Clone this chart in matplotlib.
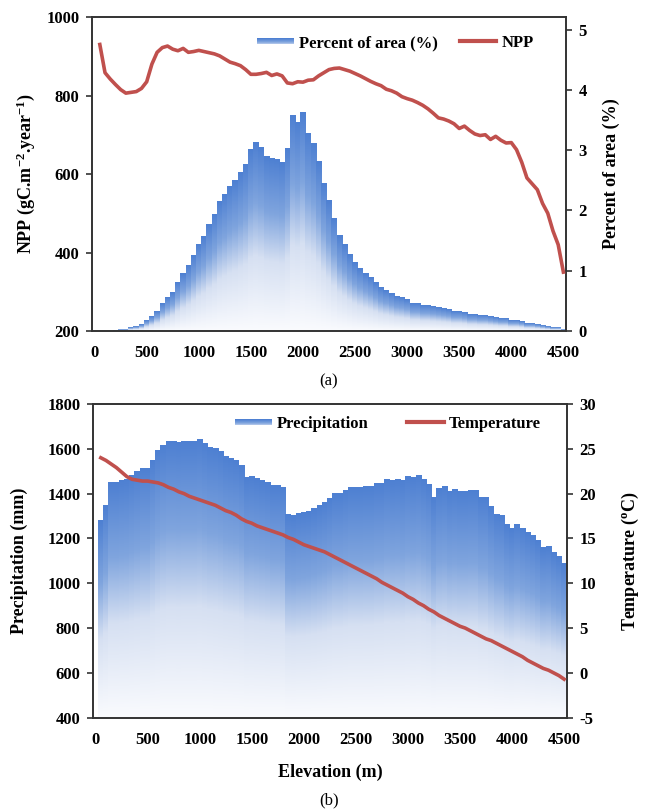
import numpy as np
import matplotlib
matplotlib.use('Agg')
import matplotlib.pyplot as plt
from matplotlib.colors import LinearSegmentedColormap
from matplotlib.legend_handler import HandlerBase
from matplotlib.patches import Rectangle, Patch
from matplotlib.lines import Line2D

plt.rcParams['font.family'] = ['Liberation Serif', 'DejaVu Serif']
plt.rcParams['font.weight'] = 'bold'
plt.rcParams['axes.labelweight'] = 'bold'
plt.rcParams['axes.unicode_minus'] = False
plt.rcParams['mathtext.fontset'] = 'custom'
plt.rcParams['mathtext.rm'] = 'Liberation Serif:bold'
plt.rcParams['mathtext.bf'] = 'Liberation Serif:bold'
plt.rcParams['mathtext.it'] = 'Liberation Serif:bold'
plt.rcParams['mathtext.default'] = 'bf'

# ---------------- data ----------------
elevation = list(range(50, 4501, 50))  # 90 bins of 50 m

percent_area = [
    0.00, 0.00, 0.00, 0.01, 0.02, 0.03, 0.06, 0.08, 0.11, 0.18,
    0.24, 0.33, 0.46, 0.55, 0.64, 0.81, 0.96, 1.09, 1.25, 1.44,
    1.56, 1.77, 1.93, 2.15, 2.26, 2.39, 2.49, 2.63, 2.76, 3.01,
    3.13, 3.05, 2.89, 2.87, 2.84, 2.79, 3.02, 3.57, 3.46, 3.62,
    3.28, 3.11, 2.82, 2.44, 2.17, 1.86, 1.58, 1.44, 1.27, 1.13,
    1.04, 0.95, 0.88, 0.81, 0.72, 0.67, 0.63, 0.58, 0.55, 0.52,
    0.46, 0.45, 0.43, 0.42, 0.40, 0.39, 0.37, 0.35, 0.33, 0.32,
    0.30, 0.28, 0.27, 0.26, 0.25, 0.24, 0.23, 0.21, 0.20, 0.18,
    0.17, 0.15, 0.13, 0.12, 0.10, 0.09, 0.07, 0.06, 0.05, 0.03,
]

npp = [
    930, 858, 842, 828, 815, 806, 808, 810, 818, 835,
    880, 910, 922, 926, 918, 914, 920, 910, 912, 915,
    912, 909, 906, 901, 893, 885, 881, 876, 866, 854,
    854, 856, 859, 851, 855, 850, 832, 830, 835, 834,
    839, 840, 850, 858, 866, 869, 870, 866, 862, 856,
    850, 843, 836, 830, 825, 816, 812, 806, 797, 792,
    788, 782, 775, 766, 755, 743, 740, 735, 728, 716,
    722, 711, 702, 698, 700, 688, 696, 686, 679, 680,
    662, 630, 590, 575, 560, 525, 500, 455, 420, 350,
]

precipitation = [
    1283, 1348, 1453, 1453, 1458, 1464, 1483, 1501, 1513, 1513,
    1547, 1592, 1617, 1635, 1635, 1631, 1635, 1636, 1636, 1642,
    1625, 1607, 1603, 1590, 1569, 1558, 1547, 1528, 1473, 1476,
    1468, 1461, 1453, 1439, 1436, 1430, 1309, 1305, 1312, 1316,
    1322, 1334, 1349, 1360, 1379, 1401, 1401, 1416, 1428, 1428,
    1428, 1434, 1434, 1446, 1446, 1464, 1458, 1464, 1458, 1476,
    1473, 1482, 1464, 1442, 1386, 1424, 1434, 1409, 1419, 1409,
    1409, 1414, 1414, 1384, 1384, 1342, 1308, 1305, 1262, 1245,
    1264, 1245, 1230, 1215, 1193, 1163, 1166, 1139, 1122, 1089,
]

temperature = [
    24.0, 23.7, 23.3, 22.9, 22.4, 21.9, 21.6, 21.5, 21.4, 21.4,
    21.3, 21.2, 21.0, 20.7, 20.5, 20.2, 20.0, 19.7, 19.5, 19.3,
    19.1, 18.9, 18.7, 18.4, 18.1, 17.9, 17.6, 17.2, 16.9, 16.7,
    16.4, 16.2, 16.0, 15.8, 15.6, 15.4, 15.1, 14.9, 14.6, 14.3,
    14.1, 13.9, 13.7, 13.5, 13.2, 12.9, 12.6, 12.3, 12.0, 11.7,
    11.4, 11.1, 10.8, 10.5, 10.1, 9.8, 9.5, 9.2, 8.9, 8.5,
    8.2, 7.8, 7.5, 7.1, 6.8, 6.4, 6.1, 5.8, 5.5, 5.2,
    5.0, 4.7, 4.4, 4.1, 3.8, 3.6, 3.3, 3.0, 2.7, 2.4,
    2.1, 1.8, 1.4, 1.1, 0.8, 0.5, 0.3, 0.0, -0.3, -0.7,
]

x_ticks = list(range(0, 4501, 500))

# ---------------- styles ----------------
RED = '#C0504D'
SPINE = '#333333'
grad_cmap = LinearSegmentedColormap.from_list(
    'bargrad',
    [(0.0, (250/255, 251/255, 254/255)),
     (0.40, (214/255, 224/255, 242/255)),
     (0.68, (128/255, 165/255, 222/255)),
     (1.0, (78/255, 128/255, 210/255))])
grad = np.linspace(0, 1, 256).reshape(-1, 1)

TICK_FS = 12
LABEL_FS = 13
LEG_FS = 12


class GradHandler(HandlerBase):
    def create_artists(self, legend, orig_handle, xdescent, ydescent,
                       width, height, fontsize, trans):
        arts = []
        n = 6
        hh = height * 0.55
        y0 = -ydescent + (height - hh) / 2
        for i in range(n):
            c = grad_cmap(0.45 + 0.55 * (i + 1) / n)
            r = Rectangle((-xdescent, y0 + hh * i / n), width, hh / n + 0.2,
                          facecolor=c, edgecolor='none', transform=trans)
            arts.append(r)
        return arts


def gradient_bars(ax, xs, vals, base):
    bars = ax.bar(xs, vals, width=50, facecolor='none', edgecolor='none',
                  linewidth=0, zorder=1)
    for b in bars:
        x0 = b.get_x()
        w = b.get_width()
        top = b.get_y() + b.get_height()
        if top <= base:
            continue
        ax.imshow(grad, cmap=grad_cmap, origin='lower', aspect='auto',
                  extent=[x0 - 2, x0 + w + 2, base, top],
                  interpolation='bilinear', zorder=1)
    return bars


def style_axes(ax):
    for s in ax.spines.values():
        s.set_color(SPINE)
        s.set_linewidth(1.2)
    ax.tick_params(axis='y', direction='out', length=4, width=1.2,
                   color=SPINE, labelsize=TICK_FS, pad=5)
    ax.tick_params(axis='x', length=0, labelsize=TICK_FS, pad=10)


fig = plt.figure(figsize=(6.47, 8.11), dpi=100)

# ---------------- panel (a) ----------------
axA = fig.add_axes([92/647, 1 - 331/811, 474/647, 314/811])
axA2 = axA.twinx()
gradient_bars(axA2, elevation, percent_area, 0.0)
axA.plot(elevation, npp, color=RED, lw=2.6, solid_joinstyle='round', zorder=3)
axA.set_zorder(axA2.get_zorder() + 1)
axA.patch.set_visible(False)

axA.set_xlim(-25, 4525)
axA.set_ylim(200, 1000)
axA.set_yticks([200, 400, 600, 800, 1000])
axA2.set_ylim(0, 5.21)
axA2.set_yticks([0, 1, 2, 3, 4, 5])
axA.set_xticks(x_ticks)
axA.set_xticklabels([str(t) for t in x_ticks])
for a in (axA, axA2):
    style_axes(a)
axA.set_ylabel(r'NPP (gC.m$^{-2}$.year$^{-1}$)', fontsize=LABEL_FS)
axA.yaxis.set_label_coords(-0.115, 0.5)
axA2.set_ylabel('Percent of area (%)', fontsize=LABEL_FS)
axA2.yaxis.set_label_coords(1.078, 0.5)

hA = [Patch(facecolor='none'), Line2D([], [], color=RED, lw=3)]
axA.legend(hA, ['Percent of area (%)', 'NPP'], loc='center',
           bbox_to_anchor=(0.64, 0.917), ncol=2, frameon=False,
           fontsize=LEG_FS, handlelength=2.2, handletextpad=0.3,
           columnspacing=1.3, handler_map={Patch: GradHandler()})

# ---------------- panel (b) ----------------
axB = fig.add_axes([93/647, 1 - 717.7/811, 473.7/647, 313.7/811])
axB2 = axB.twinx()
gradient_bars(axB, elevation, precipitation, 400)
axB2.plot(elevation, temperature, color=RED, lw=2.6, solid_joinstyle='round', zorder=3)

axB.set_xlim(-25, 4525)
axB.set_ylim(400, 1800)
axB.set_yticks(list(range(400, 1801, 200)))
axB2.set_ylim(-5, 30)
axB2.set_yticks(list(range(-5, 31, 5)))
axB.set_xticks(x_ticks)
axB.set_xticklabels([str(t) for t in x_ticks])
for a in (axB, axB2):
    style_axes(a)
axB.set_ylabel('Precipitation (mm)', fontsize=LABEL_FS)
axB.yaxis.set_label_coords(-0.137, 0.5)
axB2.set_ylabel(r'Temperature ($^{o}$C)', fontsize=LABEL_FS)
axB2.yaxis.set_label_coords(1.1125, 0.5)

hB = [Patch(facecolor='none'), Line2D([], [], color=RED, lw=3)]
axB2.legend(hB, ['Precipitation', 'Temperature'], loc='center',
            bbox_to_anchor=(0.623, 0.936), ncol=2, frameon=False,
            fontsize=LEG_FS, handlelength=2.2, handletextpad=0.3,
            columnspacing=2.3, handler_map={Patch: GradHandler()})

fig.text(329/647, 1 - 381/811, '(a)', ha='center', va='center',
         fontsize=12, fontweight='normal')
fig.text(330/647, 1 - 772/811, 'Elevation (m)', ha='center', va='center',
         fontsize=LABEL_FS, fontweight='bold')
fig.text(329/647, 1 - 800/811, '(b)', ha='center', va='center',
         fontsize=12, fontweight='normal')

fig.savefig('out.png', dpi=100)
